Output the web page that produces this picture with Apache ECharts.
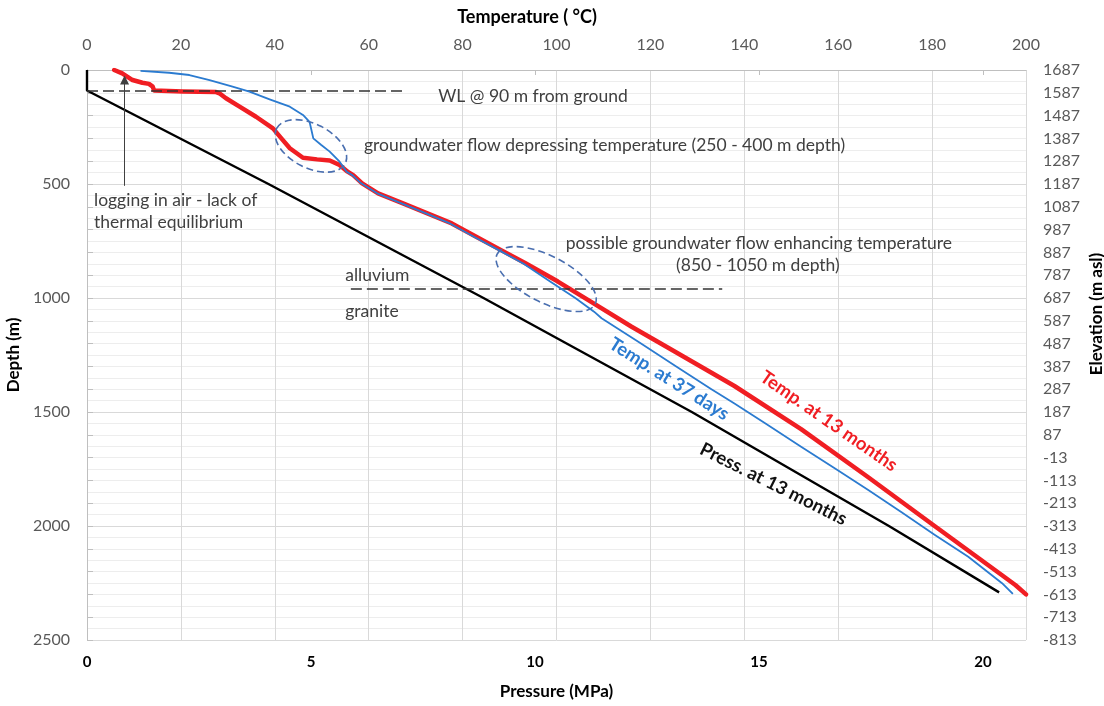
<!DOCTYPE html>
<html>
<head>
<meta charset="utf-8">
<script src="https://cdn.jsdelivr.net/npm/echarts@6/dist/echarts.min.js"></script>
<style>
html,body{margin:0;padding:0;background:#fff;}
#chart{width:1104px;height:706px;}
</style>
</head>
<body>
<div id="chart"></div>
<script>
// ---------------- DATA ----------------
// Temperature at 13 months (red): depth (m) and temperature (°C)
const redDepth = [0,15,44,56,61,73,90,94,97,102,124,161,205,256,300,343,385,392,397,417,446,461,497,541,585,629,673,731,789,848,928,1016,1126,1216,1386,1575,1786,2001,2216,2260,2300];
const redTemp  = [5.8,7.5,9.7,11.8,13.2,14.0,14.3,20.4,27.5,28.2,29.6,32.5,36.0,39.6,41.4,43.2,46.0,49.0,51.7,53.8,55.5,56.7,58.6,62.0,67.3,72.5,77.7,82.9,88.1,93.4,100.3,107.3,116.0,123.6,137.9,152.1,166.4,180.6,194.9,197.8,200.0];

// Temperature at 37 days (blue)
const blueDepth = [4,12,22,44,73,95,129,161,197,227,263,300,329,358,402,446,461,497,541,585,629,673,731,789,850,930,1000,1060,1089,1200,1300,1400,1463,1552,1652,1750,1842,1940,2039,2135,2251,2298];
const blueTemp  = [11.4,17.5,21.8,26.1,31.0,34.6,38.9,43.2,46.0,47.4,47.8,48.2,49.9,51.7,53.8,55.3,56.5,58.4,61.8,67.0,72.2,77.3,82.4,87.6,93.0,98.8,104.0,108.0,109.6,118.0,125.5,133.0,137.9,144.6,152.1,159.5,166.4,173.5,180.6,187.7,194.9,197.2];

// Pressure at 13 months (black): depth (m) and pressure (MPa)
const pressDepth = [0,90,500,1000,1500,2000,2291];
const pressValue = [0,0,4.05,8.85,13.5,17.9,20.36];

// Right axis tick labels: elevation (m asl) for each 100 m of depth
const elevationLabels = ['1687','1587','1487','1387','1287','1187','1087','987','887','787','687','587','487','387','287','187','87','-13','-113','-213','-313','-413','-513','-613','-713','-813'];

// Reference depths (m) of the marked levels
const waterLevelDepth = 90;
const alluviumGraniteDepth = 960;

// ---------------- CHART ----------------
const FONT = 'Lato';
const redData = redDepth.map((d, i) => [redTemp[i], d]);
const blueData = blueDepth.map((d, i) => [blueTemp[i], d]);
const pressData = pressDepth.map((d, i) => [pressValue[i], d]);

const chart = echarts.init(document.getElementById('chart'), null, {renderer: 'canvas'});

const option = {
  animation: false,
  backgroundColor: '#ffffff',
  textStyle: {fontFamily: FONT},
  grid: {left: 87, top: 70, width: 939, height: 570, containLabel: false, outerBoundsMode: 'none'},
  xAxis: [{
    type: 'value', position: 'top', min: 0, max: 200, interval: 20,
    axisLine: {show: true, lineStyle: {color: '#d9d9d9'}},
    axisTick: {show: false},
    axisLabel: {color: '#595959', fontSize: 16, margin: 17, fontFamily: FONT},
    splitLine: {show: true, lineStyle: {color: '#d9d9d9', width: 1}}
  }, {
    type: 'value', position: 'bottom', min: 0, max: 20.96, interval: 5,
    axisLine: {show: true, lineStyle: {color: '#bfbfbf'}},
    axisTick: {show: true, length: 5, lineStyle: {color: '#bfbfbf'}},
    axisLabel: {color: '#000', fontWeight: 'bold', fontSize: 15, margin: 15, fontFamily: FONT, showMaxLabel: false},
    splitLine: {show: false},
    name: 'Pressure (MPa)', nameLocation: 'middle', nameGap: 43,
    nameTextStyle: {color: '#000', fontWeight: 'bold', fontSize: 17, fontFamily: FONT}
  }],
  yAxis: [{
    type: 'value', position: 'left', inverse: true, min: 0, max: 2500, interval: 500,
    axisLine: {show: true, lineStyle: {color: '#bfbfbf'}},
    axisTick: {show: false},
    axisLabel: {color: '#595959', fontSize: 16, margin: 17, fontFamily: FONT, formatter: v => String(v)},
    splitLine: {show: true, lineStyle: {color: '#d9d9d9', width: 1}},
    minorTick: {show: false, splitNumber: 10},
    minorSplitLine: {show: true, lineStyle: {color: '#ededed', width: 1}},
    name: 'Depth (m)', nameLocation: 'middle', nameGap: 56,
    nameTextStyle: {color: '#000', fontWeight: 'bold', fontSize: 17, fontFamily: FONT}
  }, {
    type: 'value', position: 'right', inverse: true, min: 0, max: 2500, interval: 100,
    axisLine: {show: true, lineStyle: {color: '#bfbfbf'}},
    axisTick: {show: true, length: 6, lineStyle: {color: '#bfbfbf'}},
    axisLabel: {
      color: '#595959', fontSize: 16, margin: 17, fontFamily: FONT,
      formatter: v => elevationLabels[Math.round(v / 100)]
    },
    splitLine: {show: false}
  }],
  series: [{
    name: 'Pressure at 13 months', type: 'line', xAxisIndex: 1, yAxisIndex: 0,
    data: pressData, showSymbol: false, silent: true,
    lineStyle: {color: '#000000', width: 2.4}, z: 3
  }, {
    name: 'Temp. at 13 months', type: 'line', xAxisIndex: 0, yAxisIndex: 0,
    data: redData, showSymbol: false, silent: true,
    lineStyle: {color: '#f01e23', width: 4.5, cap: 'round', join: 'round'}, z: 4,
    markLine: {
      silent: true, animation: false,
      label: {show: false},
      emphasis: {disabled: true},
      data: [
        [{coord: [0, waterLevelDepth], symbol: 'none', lineStyle: {color: '#333', width: 1.5, type: [11, 5]}},
         {coord: [67.7, waterLevelDepth], symbol: 'none'}],
        [{coord: [56.2, alluviumGraniteDepth], symbol: 'none', lineStyle: {color: '#333', width: 1.5, type: [11, 5]}},
         {coord: [135.3, alluviumGraniteDepth], symbol: 'none'}],
        [{coord: [8.0, 508], symbol: 'none', lineStyle: {color: '#404040', width: 1, type: 'solid'}},
         {coord: [8.0, 44], symbol: 'triangle', symbolSize: 9}]
      ]
    }
  }, {
    name: 'Temp. at 37 days', type: 'line', xAxisIndex: 0, yAxisIndex: 0,
    data: blueData, showSymbol: false, silent: true,
    lineStyle: {color: '#2b7bd0', width: 1.8, join: 'round'}, z: 5
  }]
};
chart.setOption(option);

// ---------------- ANNOTATIONS (anchored in data coordinates) ----------------
const finder = {xAxisIndex: 0, yAxisIndex: 0};
const toPx = (t, d) => chart.convertToPixel(finder, [t, d]);
const deg = a => a * Math.PI / 180;

const notes = [
  {t: 74.8, d: 114, text: 'WL @ 90 m from ground', align: 'left'},
  {t: 59.0, d: 329, text: 'groundwater flow depressing temperature (250 - 400 m depth)', align: 'left'},
  {t: 1.5, d: 570, text: 'logging in air - lack of', align: 'left'},
  {t: 1.5, d: 667, text: 'thermal equilibrium', align: 'left'},
  {t: 143.1, d: 759, text: 'possible groundwater flow enhancing temperature', align: 'center'},
  {t: 142.9, d: 855, text: '(850 - 1050 m depth)', align: 'center'},
  {t: 55.0, d: 899, text: 'alluvium', align: 'left'},
  {t: 55.0, d: 1057, text: 'granite', align: 'left'}
];
const seriesLabels = [
  {t: 124.0, d: 1355, text: 'Temp. at 37 days', color: '#2b7bd0', rot: 32.3},
  {t: 158.0, d: 1540, text: 'Temp. at 13 months', color: '#f01e23', rot: 34.7},
  {t: 146.2, d: 1816, text: 'Press. at 13 months', color: '#111111', rot: 26.6}
];
const ellipses = [
  {t: 47.7, d: 333, rx: 38.5, ry: 22, rot: 27},
  {t: 97.8, d: 917, rx: 55, ry: 23.3, rot: 27}
];

const graphic = [];
notes.forEach(n => {
  const p = toPx(n.t, n.d);
  graphic.push({
    type: 'text', x: p[0], y: p[1], silent: true, z: 10,
    style: {text: n.text, fill: '#404040', font: '17.5px ' + FONT,
      align: n.align, textAlign: n.align, verticalAlign: 'middle', textVerticalAlign: 'middle'}
  });
});
seriesLabels.forEach(n => {
  const p = toPx(n.t, n.d);
  graphic.push({
    type: 'text', x: p[0], y: p[1], rotation: -deg(n.rot), silent: true, z: 10,
    style: {text: n.text, fill: n.color, font: 'bold 18.5px ' + FONT,
      align: 'center', textAlign: 'center', verticalAlign: 'middle', textVerticalAlign: 'middle'}
  });
});
ellipses.forEach(e => {
  const p = toPx(e.t, e.d);
  graphic.push({
    type: 'ellipse', x: p[0], y: p[1], rotation: -deg(e.rot), silent: true, z: 10,
    shape: {cx: 0, cy: 0, rx: e.rx, ry: e.ry},
    style: {fill: 'none', stroke: '#4a6fb0', lineWidth: 1.6, lineDash: [7, 4]}
  });
});
// Axis titles placed by layout
graphic.push({
  type: 'text', x: 527, y: 17, silent: true,
  style: {text: 'Temperature ( °C)', fill: '#000', font: 'bold 18px ' + FONT,
    align: 'center', textAlign: 'center', verticalAlign: 'middle', textVerticalAlign: 'middle'}
});
graphic.push({
  type: 'text', x: 1097, y: 314, rotation: Math.PI / 2, silent: true,
  style: {text: 'Elevation (m asl)', fill: '#000', font: 'bold 17px ' + FONT,
    align: 'center', textAlign: 'center', verticalAlign: 'middle', textVerticalAlign: 'middle'}
});
chart.setOption({graphic: graphic});
</script>
</body>
</html>
